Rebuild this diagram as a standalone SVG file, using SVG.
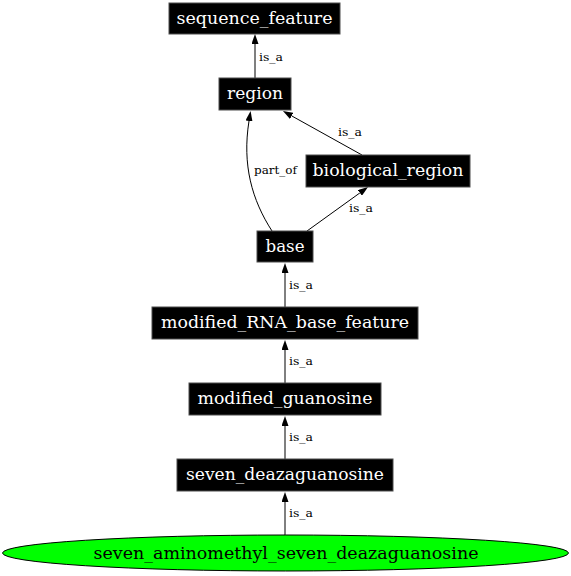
<svg xmlns="http://www.w3.org/2000/svg" width="571" height="576" viewBox="0 0 571 576">
<style>
.box{fill:#000;stroke:#4d4d4d;stroke-width:1}
.nt{font-family:"DejaVu Serif","Liberation Serif",serif;font-size:16.5px;fill:#fff;text-anchor:middle}
.et{font-family:"DejaVu Serif","Liberation Serif",serif;font-size:11.5px;fill:#000}
.edge{fill:none;stroke:#000;stroke-width:1}
</style>
<defs>
<marker id="ah" viewBox="0 0 10 7" refX="0" refY="3.5" markerUnits="userSpaceOnUse" markerWidth="10" markerHeight="7" orient="auto">
<path d="M0,0 L10,3.5 L0,7 z" fill="#000"/>
</marker>
</defs>
<g id="edges">
<path class="edge" d="M255,78 L255,44" marker-end="url(#ah)"/>
<text class="et" x="259" y="61" textLength="24" lengthAdjust="spacingAndGlyphs">is_a</text>
<path class="edge" d="M362,155 L291.7,115.9" marker-end="url(#ah)"/>
<text class="et" x="338" y="136" textLength="24" lengthAdjust="spacingAndGlyphs">is_a</text>
<path class="edge" d="M272,231 C252,200 242,165 249,121" marker-end="url(#ah)"/>
<text class="et" x="254" y="174" textLength="43" lengthAdjust="spacingAndGlyphs">part_of</text>
<path class="edge" d="M307,231 L359.9,192.9" marker-end="url(#ah)"/>
<text class="et" x="349" y="212" textLength="24" lengthAdjust="spacingAndGlyphs">is_a</text>
<path class="edge" d="M285,307 L285,273" marker-end="url(#ah)"/>
<text class="et" x="289" y="289" textLength="24" lengthAdjust="spacingAndGlyphs">is_a</text>
<path class="edge" d="M285,383 L285,350" marker-end="url(#ah)"/>
<text class="et" x="289" y="365" textLength="24" lengthAdjust="spacingAndGlyphs">is_a</text>
<path class="edge" d="M285,459 L285,426" marker-end="url(#ah)"/>
<text class="et" x="289" y="441" textLength="24" lengthAdjust="spacingAndGlyphs">is_a</text>
<path class="edge" d="M285,535 L285,502" marker-end="url(#ah)"/>
<text class="et" x="289" y="517" textLength="24" lengthAdjust="spacingAndGlyphs">is_a</text>
</g>
<g id="sequence_feature"><rect class="box" x="169" y="3" width="171" height="31"/><text class="nt" x="254.5" y="24" textLength="156" lengthAdjust="spacingAndGlyphs">sequence_feature</text></g>
<g id="region"><rect class="box" x="219" y="78" width="72" height="32"/><text class="nt" x="255" y="99" textLength="56" lengthAdjust="spacingAndGlyphs">region</text></g>
<g id="biological_region"><rect class="box" x="306" y="155" width="164" height="32"/><text class="nt" x="388" y="176" textLength="151" lengthAdjust="spacingAndGlyphs">biological_region</text></g>
<g id="base"><rect class="box" x="257" y="231" width="56" height="31"/><text class="nt" x="285" y="252" textLength="39" lengthAdjust="spacingAndGlyphs">base</text></g>
<g id="modified_RNA_base_feature"><rect class="box" x="152" y="307" width="266" height="32"/><text class="nt" x="285" y="328" textLength="248" lengthAdjust="spacingAndGlyphs">modified_RNA_base_feature</text></g>
<g id="modified_guanosine"><rect class="box" x="189" y="383" width="192" height="32"/><text class="nt" x="285" y="404" textLength="175" lengthAdjust="spacingAndGlyphs">modified_guanosine</text></g>
<g id="seven_deazaguanosine"><rect class="box" x="177" y="459" width="216" height="32"/><text class="nt" x="285" y="480" textLength="198" lengthAdjust="spacingAndGlyphs">seven_deazaguanosine</text></g>
<g id="seven_aminomethyl_seven_deazaguanosine"><ellipse cx="285.5" cy="553" rx="283" ry="18" fill="#00ff00" stroke="#000"/><text class="nt" x="286" y="559" textLength="385" lengthAdjust="spacingAndGlyphs" style="fill:#000">seven_aminomethyl_seven_deazaguanosine</text></g>
</svg>
